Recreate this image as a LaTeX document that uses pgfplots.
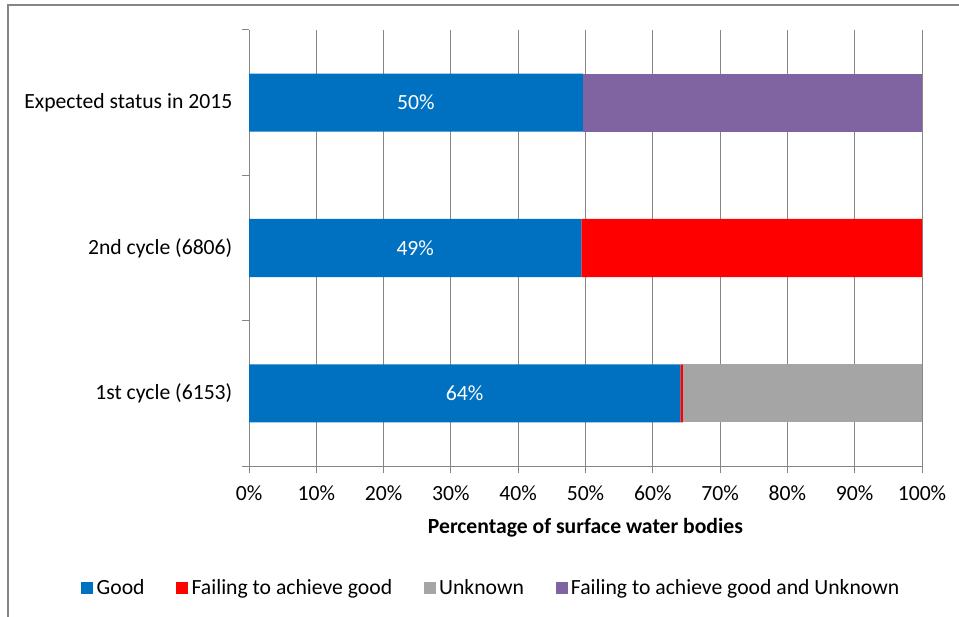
\documentclass[border=0pt]{standalone}
\usepackage{fontspec}
\setmainfont{Carlito}
\usepackage{pgfplots}
\pgfplotsset{compat=1.18}
\definecolor{cgood}{HTML}{0070C0}
\definecolor{cfail}{HTML}{FF0000}
\definecolor{cunk}{HTML}{A5A5A5}
\definecolor{cfu}{HTML}{8064A2}
\definecolor{cgrid}{HTML}{868686}
\begin{document}
\begin{tikzpicture}
\useasboundingbox (0pt,0pt) rectangle (575.4pt,369.6pt);
\draw[cgrid, line width=0.9pt] (4.8pt,-20pt) -- (4.8pt,366.6pt) -- (600pt,366.6pt);
\begin{axis}[
  at={(149.4pt,90pt)}, anchor=south west,
  scale only axis, width=403.8pt, height=261.6pt,
  xbar stacked, bar width=34.8pt,
  xmin=0, xmax=100, ymin=-0.5, ymax=2.5,
  axis x line*=bottom, axis y line*=left,
  axis line style={cgrid, line width=0.6pt},
  xtick={0,10,...,100},
  xticklabel={\pgfmathprintnumber{\tick}\%},
  /pgf/number format/assume math mode=true,
  tick align=outside, major tick length=4.2pt,
  tick style={cgrid, line width=0.6pt},
  ytick={-0.5,0.5,1.5,2.5}, yticklabels={},
  extra y ticks={0,1,2},
  extra y tick labels={1st cycle (6153),2nd cycle (6806),Expected status in 2015},
  extra y tick style={tick style={draw=none}},
  yticklabel style={font=\fontsize{13}{15}\selectfont, text=black, xshift=-2.3pt},
  xticklabel style={font=\fontsize{13}{15}\selectfont, text=black, yshift=-4pt},
  xmajorgrids, grid style={cgrid, line width=0.6pt},
  xlabel={\textbf{Percentage of surface water bodies}},
  xlabel style={at={(axis description cs:0.5,0)}, anchor=center, yshift=-37.2pt, font=\fontsize{13}{15}\selectfont},
  legend image code/.code={\draw[#1,draw=none] (0pt,-3.6pt) rectangle (7.2pt,3.6pt);},
  legend style={at={(0.361,-0.28)}, anchor=center, draw=none, fill=none,
    legend columns=4, font=\fontsize{13}{15}\selectfont,
    /tikz/every even column/.append style={column sep=17pt}},
]
\addplot[fill=cgood, draw=none,
  point meta=explicit symbolic,
  nodes near coords,
  every node near coord/.append style={anchor=center, text=white,
    font=\fontsize{13}{15}\selectfont}]
  coordinates {(64.1,0) [64\%] (49.4,1) [49\%] (49.6,2) [50\%]};
\addplot[fill=cfail, draw=none] coordinates {(0.35,0) (50.6,1) (0,2)};
\addplot[fill=cunk, draw=none] coordinates {(35.55,0) (0,1) (0,2)};
\addplot[fill=cfu, draw=none] coordinates {(0,0) (0,1) (50.4,2)};
\legend{Good,Failing to achieve good,Unknown,Failing to achieve good and Unknown}
\end{axis}
\end{tikzpicture}
\end{document}
